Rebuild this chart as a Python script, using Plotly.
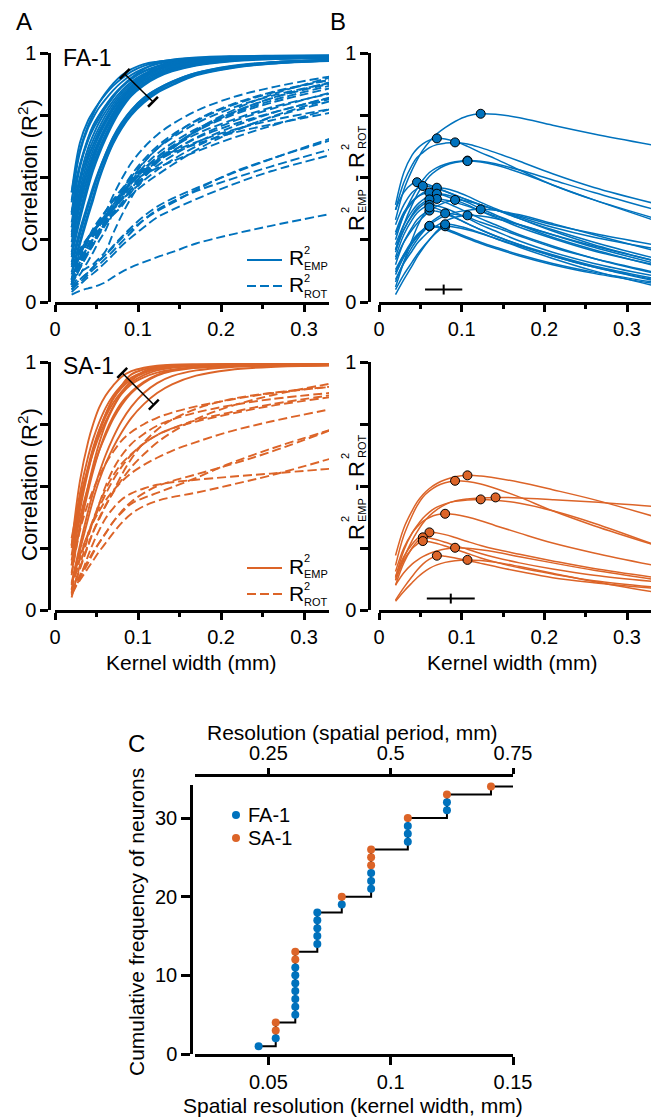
import numpy as np
import plotly.graph_objects as go

BLUE = "#0072BD"
ORANGE = "#DC6428"
FONT = "Arial, Liberation Sans, sans-serif"
W, H = 651, 1119

# kernel widths (mm) at which the correlation curves are sampled
KERNEL_WIDTH = [0.02, 0.03, 0.04, 0.046, 0.053, 0.061, 0.070, 0.080, 0.092,
                0.107, 0.123, 0.141, 0.17, 0.21, 0.26, 0.34]

# FA-1 afferents: empirical correlation R2_EMP
FA_EMP = [
    [0.36, 0.495, 0.585, 0.63, 0.678, 0.725, 0.775, 0.82, 0.865, 0.907, 0.936, 0.954, 0.975, 0.979, 0.981, 0.984],
    [0.44, 0.61, 0.71, 0.755, 0.80, 0.84, 0.877, 0.91, 0.935, 0.955, 0.965, 0.972, 0.98, 0.985, 0.985, 0.987],
    [0.41, 0.55, 0.65, 0.695, 0.735, 0.78, 0.822, 0.863, 0.901, 0.935, 0.96, 0.97, 0.978, 0.982, 0.985, 0.987],
    [0.30, 0.43, 0.53, 0.585, 0.64, 0.695, 0.745, 0.793, 0.843, 0.898, 0.935, 0.958, 0.975, 0.981, 0.984, 0.986],
    [0.27, 0.40, 0.51, 0.57, 0.635, 0.695, 0.755, 0.808, 0.86, 0.911, 0.945, 0.965, 0.977, 0.982, 0.984, 0.986],
    [0.44, 0.64, 0.73, 0.765, 0.80, 0.835, 0.868, 0.897, 0.925, 0.948, 0.963, 0.973, 0.982, 0.987, 0.989, 0.99],
    [0.40, 0.60, 0.70, 0.74, 0.78, 0.815, 0.85, 0.882, 0.912, 0.938, 0.956, 0.968, 0.979, 0.985, 0.988, 0.99],
    [0.36, 0.55, 0.66, 0.71, 0.75, 0.79, 0.83, 0.865, 0.898, 0.927, 0.947, 0.962, 0.975, 0.983, 0.987, 0.989],
    [0.35, 0.54, 0.655, 0.705, 0.748, 0.788, 0.826, 0.862, 0.895, 0.925, 0.945, 0.96, 0.974, 0.982, 0.986, 0.988],
    [0.32, 0.50, 0.62, 0.67, 0.72, 0.765, 0.808, 0.848, 0.884, 0.916, 0.938, 0.955, 0.97, 0.98, 0.985, 0.988],
    [0.30, 0.475, 0.60, 0.65, 0.70, 0.75, 0.796, 0.839, 0.877, 0.91, 0.934, 0.951, 0.967, 0.978, 0.984, 0.987],
    [0.28, 0.45, 0.575, 0.63, 0.685, 0.735, 0.785, 0.83, 0.87, 0.905, 0.93, 0.948, 0.965, 0.977, 0.983, 0.986],
    [0.24, 0.41, 0.535, 0.595, 0.65, 0.705, 0.76, 0.81, 0.855, 0.893, 0.92, 0.94, 0.96, 0.973, 0.98, 0.984],
    [0.26, 0.43, 0.555, 0.612, 0.667, 0.72, 0.772, 0.82, 0.862, 0.899, 0.925, 0.944, 0.962, 0.975, 0.982, 0.985],
    [0.22, 0.385, 0.51, 0.575, 0.632, 0.69, 0.748, 0.80, 0.848, 0.887, 0.915, 0.936, 0.957, 0.971, 0.979, 0.983],
    [0.20, 0.36, 0.49, 0.555, 0.615, 0.675, 0.735, 0.79, 0.84, 0.88, 0.91, 0.932, 0.954, 0.969, 0.977, 0.982],
    [0.18, 0.33, 0.46, 0.528, 0.592, 0.655, 0.718, 0.775, 0.828, 0.87, 0.902, 0.926, 0.95, 0.966, 0.975, 0.98],
    [0.16, 0.29, 0.40, 0.465, 0.53, 0.595, 0.66, 0.715, 0.77, 0.82, 0.855, 0.885, 0.92, 0.947, 0.963, 0.974],
    [0.19, 0.345, 0.475, 0.54, 0.603, 0.665, 0.727, 0.782, 0.834, 0.875, 0.906, 0.929, 0.952, 0.968, 0.976, 0.981],
    [0.14, 0.27, 0.385, 0.45, 0.525, 0.595, 0.663, 0.72, 0.772, 0.82, 0.855, 0.885, 0.92, 0.945, 0.962, 0.973],
    [0.12, 0.245, 0.36, 0.425, 0.50, 0.57, 0.64, 0.70, 0.755, 0.805, 0.843, 0.873, 0.913, 0.94, 0.958, 0.97],
    [0.11, 0.23, 0.345, 0.41, 0.49, 0.565, 0.635, 0.695, 0.75, 0.80, 0.84, 0.87, 0.91, 0.938, 0.957, 0.969],
    [0.15, 0.28, 0.39, 0.452, 0.52, 0.585, 0.65, 0.706, 0.76, 0.812, 0.85, 0.88, 0.915, 0.944, 0.962, 0.973],
]

# FA-1 afferents: R2_EMP - R2_ROT
FA_GAIN = [
    [0.33, 0.45, 0.53, 0.57, 0.61, 0.645, 0.675, 0.70, 0.725, 0.747, 0.756, 0.754, 0.74, 0.71, 0.675, 0.625],
    [0.39, 0.52, 0.59, 0.615, 0.635, 0.65, 0.657, 0.655, 0.645, 0.625, 0.60, 0.575, 0.53, 0.47, 0.41, 0.33],
    [0.37, 0.48, 0.55, 0.58, 0.60, 0.62, 0.632, 0.638, 0.641, 0.635, 0.62, 0.60, 0.565, 0.515, 0.46, 0.39],
    [0.25, 0.35, 0.42, 0.455, 0.49, 0.52, 0.54, 0.553, 0.563, 0.568, 0.565, 0.555, 0.53, 0.49, 0.44, 0.365],
    [0.21, 0.31, 0.39, 0.43, 0.47, 0.505, 0.53, 0.548, 0.56, 0.566, 0.562, 0.55, 0.52, 0.47, 0.41, 0.32],
    [0.37, 0.44, 0.474, 0.481, 0.478, 0.47, 0.458, 0.445, 0.428, 0.41, 0.39, 0.37, 0.34, 0.30, 0.26, 0.21],
    [0.31, 0.39, 0.44, 0.455, 0.466, 0.463, 0.455, 0.445, 0.43, 0.41, 0.39, 0.37, 0.345, 0.31, 0.275, 0.225],
    [0.27, 0.35, 0.40, 0.42, 0.438, 0.452, 0.459, 0.456, 0.445, 0.425, 0.40, 0.375, 0.335, 0.285, 0.23, 0.16],
    [0.28, 0.36, 0.405, 0.422, 0.434, 0.439, 0.436, 0.427, 0.41, 0.39, 0.365, 0.34, 0.30, 0.255, 0.205, 0.145],
    [0.23, 0.31, 0.365, 0.39, 0.41, 0.427, 0.435, 0.432, 0.42, 0.40, 0.375, 0.35, 0.31, 0.26, 0.21, 0.14],
    [0.21, 0.29, 0.345, 0.37, 0.39, 0.406, 0.414, 0.41, 0.40, 0.385, 0.365, 0.345, 0.31, 0.27, 0.225, 0.16],
    [0.20, 0.29, 0.35, 0.378, 0.398, 0.412, 0.41, 0.40, 0.383, 0.36, 0.335, 0.31, 0.27, 0.225, 0.175, 0.11],
    [0.17, 0.24, 0.29, 0.315, 0.34, 0.365, 0.385, 0.40, 0.41, 0.405, 0.39, 0.37, 0.335, 0.29, 0.24, 0.17],
    [0.18, 0.27, 0.33, 0.357, 0.377, 0.39, 0.387, 0.377, 0.36, 0.337, 0.31, 0.285, 0.245, 0.20, 0.155, 0.10],
    [0.15, 0.24, 0.30, 0.33, 0.352, 0.367, 0.364, 0.354, 0.338, 0.315, 0.29, 0.265, 0.23, 0.185, 0.14, 0.085],
    [0.13, 0.19, 0.235, 0.26, 0.285, 0.31, 0.33, 0.347, 0.36, 0.368, 0.372, 0.368, 0.35, 0.315, 0.27, 0.20],
    [0.11, 0.18, 0.235, 0.265, 0.29, 0.315, 0.338, 0.356, 0.352, 0.34, 0.32, 0.30, 0.265, 0.22, 0.175, 0.115],
    [0.09, 0.155, 0.205, 0.235, 0.26, 0.285, 0.307, 0.325, 0.34, 0.348, 0.345, 0.335, 0.31, 0.27, 0.22, 0.15],
    [0.12, 0.19, 0.245, 0.27, 0.29, 0.304, 0.30, 0.29, 0.275, 0.255, 0.235, 0.215, 0.185, 0.15, 0.115, 0.07],
    [0.08, 0.16, 0.22, 0.25, 0.28, 0.306, 0.303, 0.295, 0.28, 0.26, 0.24, 0.22, 0.19, 0.155, 0.12, 0.075],
    [0.05, 0.11, 0.16, 0.19, 0.22, 0.25, 0.28, 0.304, 0.30, 0.29, 0.275, 0.255, 0.225, 0.185, 0.14, 0.08],
    [0.03, 0.09, 0.145, 0.18, 0.215, 0.25, 0.285, 0.312, 0.308, 0.295, 0.277, 0.255, 0.22, 0.175, 0.125, 0.06],
    [0.06, 0.16, 0.25, 0.30, 0.345, 0.38, 0.375, 0.36, 0.34, 0.315, 0.29, 0.265, 0.23, 0.19, 0.145, 0.09],
]

# SA-1 afferents: empirical correlation R2_EMP
SA_EMP = [
    [0.29, 0.45, 0.57, 0.635, 0.70, 0.76, 0.82, 0.875, 0.925, 0.962, 0.98, 0.987, 0.988, 0.988, 0.988, 0.988],
    [0.25, 0.44, 0.58, 0.655, 0.725, 0.79, 0.855, 0.905, 0.95, 0.97, 0.98, 0.985, 0.988, 0.99, 0.99, 0.99],
    [0.20, 0.37, 0.50, 0.57, 0.64, 0.705, 0.77, 0.825, 0.875, 0.915, 0.945, 0.963, 0.977, 0.985, 0.988, 0.99],
    [0.18, 0.34, 0.50, 0.585, 0.67, 0.75, 0.815, 0.87, 0.91, 0.938, 0.957, 0.969, 0.977, 0.982, 0.985, 0.987],
    [0.26, 0.47, 0.62, 0.69, 0.755, 0.815, 0.865, 0.905, 0.937, 0.96, 0.974, 0.982, 0.987, 0.989, 0.99, 0.99],
    [0.22, 0.42, 0.57, 0.645, 0.715, 0.78, 0.835, 0.88, 0.918, 0.947, 0.966, 0.977, 0.985, 0.988, 0.99, 0.99],
    [0.18, 0.40, 0.56, 0.64, 0.72, 0.79, 0.85, 0.895, 0.93, 0.955, 0.971, 0.98, 0.986, 0.989, 0.99, 0.99],
    [0.26, 0.52, 0.68, 0.75, 0.815, 0.865, 0.905, 0.94, 0.963, 0.977, 0.985, 0.989, 0.991, 0.992, 0.992, 0.992],
    [0.15, 0.33, 0.48, 0.56, 0.64, 0.715, 0.78, 0.835, 0.88, 0.92, 0.948, 0.966, 0.98, 0.986, 0.989, 0.99],
    [0.11, 0.26, 0.40, 0.475, 0.55, 0.625, 0.695, 0.76, 0.82, 0.875, 0.915, 0.943, 0.966, 0.979, 0.985, 0.988],
    [0.10, 0.24, 0.37, 0.445, 0.52, 0.59, 0.655, 0.715, 0.775, 0.83, 0.875, 0.91, 0.945, 0.968, 0.98, 0.986],
]

# SA-1 afferents: R2_EMP - R2_ROT
SA_GAIN = [
    [0.22, 0.33, 0.40, 0.435, 0.465, 0.49, 0.51, 0.525, 0.537, 0.543, 0.54, 0.532, 0.515, 0.485, 0.445, 0.37],
    [0.18, 0.30, 0.38, 0.42, 0.455, 0.48, 0.50, 0.513, 0.521, 0.518, 0.508, 0.49, 0.455, 0.40, 0.34, 0.255],
    [0.13, 0.24, 0.31, 0.34, 0.37, 0.395, 0.415, 0.428, 0.438, 0.444, 0.446, 0.443, 0.43, 0.40, 0.35, 0.255],
    [0.12, 0.21, 0.28, 0.315, 0.35, 0.38, 0.405, 0.425, 0.44, 0.448, 0.452, 0.454, 0.452, 0.445, 0.435, 0.415],
    [0.155, 0.25, 0.31, 0.335, 0.357, 0.373, 0.384, 0.388, 0.385, 0.375, 0.36, 0.34, 0.31, 0.27, 0.23, 0.175],
    [0.135, 0.215, 0.265, 0.287, 0.303, 0.313, 0.311, 0.304, 0.292, 0.276, 0.26, 0.245, 0.225, 0.198, 0.167, 0.128],
    [0.10, 0.19, 0.25, 0.275, 0.293, 0.29, 0.283, 0.273, 0.26, 0.245, 0.228, 0.212, 0.19, 0.165, 0.14, 0.112],
    [0.12, 0.20, 0.248, 0.265, 0.278, 0.275, 0.268, 0.258, 0.245, 0.228, 0.21, 0.193, 0.17, 0.145, 0.118, 0.09],
    [0.10, 0.15, 0.185, 0.20, 0.215, 0.228, 0.238, 0.246, 0.251, 0.249, 0.243, 0.234, 0.215, 0.19, 0.16, 0.12],
    [0.04, 0.09, 0.135, 0.16, 0.185, 0.205, 0.219, 0.217, 0.21, 0.20, 0.188, 0.175, 0.155, 0.13, 0.11, 0.085],
    [0.035, 0.075, 0.11, 0.13, 0.15, 0.168, 0.182, 0.192, 0.199, 0.202, 0.20, 0.193, 0.175, 0.148, 0.115, 0.068],
]

# spatial resolution (kernel width, mm) of each neuron
FA_RES = [0.046, 0.053, 0.061, 0.061, 0.061, 0.061, 0.061, 0.061, 0.061,
          0.070, 0.070, 0.070, 0.070, 0.070, 0.080, 0.092, 0.092, 0.092,
          0.107, 0.107, 0.107, 0.123, 0.123]
SA_RES = [0.053, 0.053, 0.061, 0.061, 0.080, 0.092, 0.092, 0.092, 0.107, 0.123, 0.141]

# spread of the empirical curves (bar drawn across the bundle)
FA_SPREAD_X = [0.084, 0.118]
FA_SPREAD_Y = [0.916, 0.804]
SA_SPREAD_X = [0.081, 0.119]
SA_SPREAD_Y = [0.956, 0.828]

# height at which the mean +/- SD resolution cross sits in panel B
FA_CROSS_Y = 0.05
SA_CROSS_Y = 0.046
CROSS_HALF_HEIGHT = 0.02

PERIOD_PER_WIDTH = 5.0


def px(x):
    return x / W


def py(y):
    return 1 - y / H


fig = go.Figure()


def add_group(emp_list, gain_list, color, xa, ya, xb, yb):
    kw = np.array(KERNEL_WIDTH)
    for emp, gain in zip(emp_list, gain_list):
        rot = np.round(np.array(emp) - np.array(gain), 4)
        fig.add_trace(go.Scatter(x=kw, y=rot, mode="lines", xaxis=xa, yaxis=ya,
                                 line=dict(color=color, width=1.9, dash="9px,4px",
                                           shape="spline", smoothing=1.0)))
    for emp in emp_list:
        fig.add_trace(go.Scatter(x=kw, y=emp, mode="lines", xaxis=xa, yaxis=ya,
                                 line=dict(color=color, width=1.9,
                                           shape="spline", smoothing=1.0)))
    for gain in gain_list:
        fig.add_trace(go.Scatter(x=kw, y=gain, mode="lines", xaxis=xb, yaxis=yb,
                                 line=dict(color=color, width=1.5,
                                           shape="spline", smoothing=1.0)))
    peak_x, peak_y = [], []
    for gain in gain_list:
        i = int(np.argmax(gain))
        peak_x.append(kw[i])
        peak_y.append(gain[i])
    fig.add_trace(go.Scatter(x=peak_x, y=peak_y, mode="markers", xaxis=xb, yaxis=yb,
                             marker=dict(size=9, color=color,
                                         line=dict(color="black", width=1))))


add_group(FA_EMP, FA_GAIN, BLUE, "x", "y", "x2", "y2")
add_group(SA_EMP, SA_GAIN, ORANGE, "x3", "y3", "x4", "y4")

# bars across the empirical bundles
for bx, by, xa, ya in [(FA_SPREAD_X, FA_SPREAD_Y, "x", "y"),
                       (SA_SPREAD_X, SA_SPREAD_Y, "x3", "y3")]:
    fig.add_trace(go.Scatter(x=bx, y=by, mode="lines+markers", xaxis=xa, yaxis=ya,
                             line=dict(color="black", width=1.5),
                             marker=dict(symbol="line-ns", size=10, angle=45,
                                         color="black",
                                         line=dict(color="black", width=2.5))))

# mean +/- SD of resolution
for res, cy, xa, ya in [(FA_RES, FA_CROSS_Y, "x2", "y2"),
                        (SA_RES, SA_CROSS_Y, "x4", "y4")]:
    m = float(np.mean(res))
    sd = float(np.std(res, ddof=1))
    fig.add_trace(go.Scatter(x=[m], y=[cy], mode="markers", xaxis=xa, yaxis=ya,
                             marker=dict(size=1, color="rgba(0,0,0,0)"),
                             error_x=dict(type="data", array=[sd], color="black",
                                          thickness=2, width=0),
                             error_y=dict(type="data", array=[CROSS_HALF_HEIGHT],
                                          color="black", thickness=2, width=0)))

# cumulative distribution of resolution
neurons = sorted([(w, 0) for w in FA_RES] + [(w, 1) for w in SA_RES])
ranks = np.arange(1, len(neurons) + 1)
widths = np.array([n[0] for n in neurons])
types = np.array([n[1] for n in neurons])
uniq = sorted(set(widths.tolist()))
step_x = uniq + [0.15]
step_y = [int(ranks[widths == u].max()) for u in uniq] + [len(neurons)]
fig.add_trace(go.Scatter(x=step_x, y=step_y, mode="lines", xaxis="x5", yaxis="y5",
                         line=dict(color="black", width=2, shape="hv")))
for t, color in [(0, BLUE), (1, ORANGE)]:
    fig.add_trace(go.Scatter(x=widths[types == t], y=ranks[types == t], mode="markers",
                             xaxis="x5", yaxis="y5", cliponaxis=False,
                             marker=dict(size=8, color=color)))
fig.add_trace(go.Scatter(x=[PERIOD_PER_WIDTH * 0.1], y=[0], mode="markers",
                         xaxis="x6", yaxis="y5", marker=dict(opacity=0),
                         hoverinfo="skip"))

axis_common = dict(showgrid=False, zeroline=False, showline=True, linecolor="black",
                   linewidth=2.5, ticks="outside", tickcolor="black", tickwidth=2.5,
                   automargin=False,
                   tickfont=dict(family=FONT, size=20, color="black"))


def xk(domain_px, rng, anchor):
    return dict(axis_common, domain=[px(domain_px[0]), px(domain_px[1])], range=rng,
                anchor=anchor, tickvals=[0, 0.1, 0.2, 0.3],
                ticktext=["0", "0.1", "0.2", "0.3"], ticklen=7,
                minor=dict(tickvals=[0.05, 0.15, 0.25], ticklen=4, ticks="outside",
                           tickwidth=2.5, tickcolor="black"))


def yr(domain_px, xpos):
    return dict(axis_common, domain=[py(domain_px[1]), py(domain_px[0])], range=[0, 1],
                anchor="free", position=px(xpos), tickvals=[0, 1],
                ticktext=["0", "1"], ticklen=8,
                minor=dict(tickvals=[0.25, 0.5, 0.75], ticklen=8, ticks="outside",
                           tickwidth=2.5, tickcolor="black"))


TOP = (53, 302)
BOT = (362, 610)
fig.update_layout(
    template="none",
    xaxis=xk((55, 329), [0, 0.33], "y"),
    yaxis=yr(TOP, 49),
    xaxis2=xk((379, 651), [0, 0.329], "y2"),
    yaxis2=yr(TOP, 369),
    xaxis3=xk((55, 329), [0, 0.33], "y3"),
    yaxis3=yr(BOT, 49),
    xaxis4=xk((379, 651), [0, 0.329], "y4"),
    yaxis4=yr(BOT, 369),
    xaxis5=dict(axis_common, domain=[px(195), px(513)], range=[0.02, 0.15], anchor="y5",
                tickvals=[0.05, 0.1, 0.15], ticktext=["0.05", "0.1", "0.15"], ticklen=8),
    yaxis5=dict(axis_common, domain=[py(1054), py(785)], range=[0, 34.2], anchor="free",
                position=px(191), tickvals=[0, 10, 20, 30], ticklen=9),
    xaxis6=dict(axis_common, domain=[px(195), px(513)], overlaying="x5", side="top",
                anchor="free", position=py(775),
                range=[0.02 * PERIOD_PER_WIDTH, 0.15 * PERIOD_PER_WIDTH],
                tickvals=[0.25, 0.5, 0.75], ticktext=["0.25", "0.5", "0.75"], ticklen=6),
)

ann = []


def text(x, y, s, size, angle=0, xanchor="center", color="black"):
    ann.append(dict(x=px(x), y=py(y), xref="paper", yref="paper", text=s,
                    showarrow=False, textangle=angle, xanchor=xanchor, yanchor="middle",
                    font=dict(family=FONT, size=size, color=color)))


# panel letters and afferent labels
text(24, 21, "A", 24)
text(338, 21, "B", 24)
text(136, 743, "C", 24)
text(61, 58, "FA-1", 23, xanchor="left")
text(61, 366, "SA-1", 23, xanchor="left")

# axis titles
for dy in (0, 309):
    text(28, 176 + dy, "Correlation (R<sup>2</sup>)", 22, angle=-90)
    text(356, 223 + dy, "R", 22, angle=-90)
    text(345, 210 + dy, "2", 11, angle=-90)
    text(362, 201 + dy, "EMP", 11, angle=-90)
    text(356, 179 + dy, "-", 22, angle=-90)
    text(356, 160 + dy, "R", 22, angle=-90)
    text(345, 147 + dy, "2", 11, angle=-90)
    text(362, 137 + dy, "ROT", 11, angle=-90)
text(191, 662, "Kernel width (mm)", 21)
text(512, 662, "Kernel width (mm)", 21)
text(353, 1105, "Spatial resolution (kernel width, mm)", 21)
text(353, 732, "Resolution (spatial period, mm)", 21)
text(136, 922, "Cumulative frequency of neurons", 21, angle=-90)

# legends of panel A
shapes = []
for dy, color in [(0, BLUE), (308, ORANGE)]:
    shapes.append(dict(type="line", xref="paper", yref="paper", x0=px(247), x1=px(282),
                       y0=py(260 + dy), y1=py(260 + dy), line=dict(color=color, width=2)))
    shapes.append(dict(type="line", xref="paper", yref="paper", x0=px(247), x1=px(282),
                       y0=py(286 + dy), y1=py(286 + dy),
                       line=dict(color=color, width=2, dash="9px,4px")))
    text(287, 258 + dy, "R", 21, xanchor="left")
    text(302, 250 + dy, "2", 11, xanchor="left")
    text(302, 266 + dy, "EMP", 11, xanchor="left")
    text(287, 285 + dy, "R", 21, xanchor="left")
    text(302, 278 + dy, "2", 11, xanchor="left")
    text(302, 294 + dy, "ROT", 11, xanchor="left")

# legend of panel C
for yy, color, lab in [(815, BLUE, "FA-1"), (838, ORANGE, "SA-1")]:
    shapes.append(dict(type="circle", xref="paper", yref="paper", xsizemode="pixel",
                       ysizemode="pixel", xanchor=px(236), yanchor=py(yy),
                       x0=-4, x1=4, y0=-4, y1=4, fillcolor=color, line=dict(width=0)))
    text(246, yy, lab, 20, xanchor="left")

fig.update_layout(
    width=W, height=H, margin=dict(l=0, r=0, t=0, b=0, pad=0),
    paper_bgcolor="white", plot_bgcolor="white",
    showlegend=False, hovermode=False,
    annotations=ann, shapes=shapes,
    font=dict(family=FONT, color="black"),
)

# the page body gets no default margin so the figure fills the window exactly
fig.write_html(
    "out.html",
    post_script="document.body.style.margin='0';document.body.style.overflow='hidden';",
)
